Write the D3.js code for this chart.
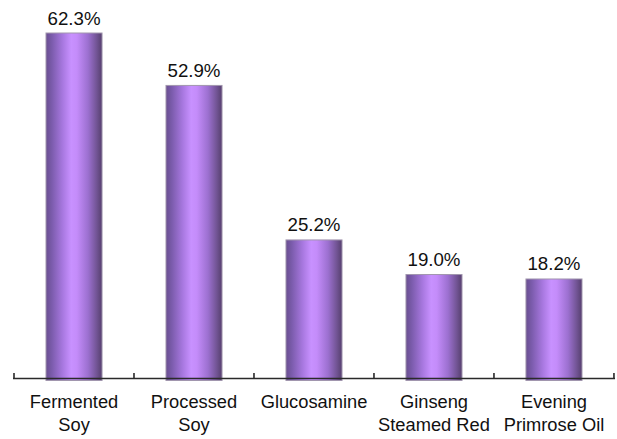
<!DOCTYPE html>
<html>
<head>
<meta charset="utf-8">
<script src="https://cdn.jsdelivr.net/npm/d3@7"></script>
<style>
  html, body { margin: 0; padding: 0; background: #fff; }
  svg { display: block; }
  text { font-family: "Liberation Sans", Arial, sans-serif; fill: #111; }
</style>
</head>
<body>
<svg id="chart" width="617" height="439"></svg>
<script>
// Supplement usage shares
const categories = [
  ["Fermented", "Soy"],
  ["Processed", "Soy"],
  ["Glucosamine"],
  ["Ginseng", "Steamed Red"],
  ["Evening", "Primrose Oil"]
];
const values = [62.3, 52.9, 25.2, 19.0, 18.2];
const valueLabels = ["62.3%", "52.9%", "25.2%", "19.0%", "18.2%"];

const W = 617, H = 439;
const left = 14, right = 614, baseY = 380.5, axisY = 378.5;

const svg = d3.select("#chart");

const keys = categories.map(c => c.join(" "));
const x = d3.scaleBand()
  .domain(keys)
  .range([left, right])
  .paddingInner(0.533)
  .paddingOuter(0.2667);

const y = d3.scaleLinear()
  .domain([0, 62.3])
  .range([baseY, 33]);

// Horizontal shading for the bars
const defs = svg.append("defs");
const grad = defs.append("linearGradient")
  .attr("id", "barGrad")
  .attr("x1", "0%").attr("x2", "100%")
  .attr("y1", "0%").attr("y2", "0%");
[
  [0, "#6a4f90"], [0.1, "#7a5bab"], [0.3, "#a878e0"], [0.45, "#c891ff"],
  [0.55, "#c48cfa"], [0.75, "#9c70d0"], [0.9, "#735596"], [1, "#563f6e"]
].forEach(([o, c]) => grad.append("stop").attr("offset", o).attr("stop-color", c));

// Bars
svg.append("g").selectAll("rect")
  .data(values)
  .join("rect")
  .attr("x", (d, i) => x(keys[i]))
  .attr("width", x.bandwidth())
  .attr("y", d => y(d))
  .attr("height", d => y(0) - y(d))
  .attr("fill", "url(#barGrad)")
  .attr("stroke", "#a196ae")
  .attr("stroke-width", 1);

// Value labels above each bar
svg.append("g").selectAll("text")
  .data(values)
  .join("text")
  .attr("x", (d, i) => x(keys[i]) + x.bandwidth() / 2)
  .attr("y", d => y(d) - 8.5)
  .attr("text-anchor", "middle")
  .style("font-size", "18.7px")
  .text((d, i) => valueLabels[i]);

// Category axis: baseline with tick marks at band boundaries
const axis = svg.append("g");
axis.append("line")
  .attr("x1", left - 1).attr("x2", right + 1)
  .attr("y1", axisY).attr("y2", axisY)
  .attr("stroke", "#2a2a2a").attr("stroke-width", 1.6);

const step = x.step();
const bounds = d3.range(keys.length + 1).map(i => left + i * step);
axis.selectAll("line.tick")
  .data(bounds)
  .join("line")
  .attr("class", "tick")
  .attr("x1", d => d).attr("x2", d => d)
  .attr("y1", axisY).attr("y2", axisY - 5.5)
  .attr("stroke", "#2a2a2a").attr("stroke-width", 1.6);

// Category labels (two lines where needed)
const labels = svg.append("g").selectAll("text")
  .data(categories)
  .join("text")
  .attr("text-anchor", "middle")
  .style("font-size", "18.3px")
  .attr("transform", (d, i) => `translate(${x(keys[i]) + x.bandwidth() / 2},407.5)`);
labels.selectAll("tspan")
  .data(d => d)
  .join("tspan")
  .attr("x", 0)
  .attr("y", (d, j) => j * 23.5)
  .text(d => d);
</script>
</body>
</html>
